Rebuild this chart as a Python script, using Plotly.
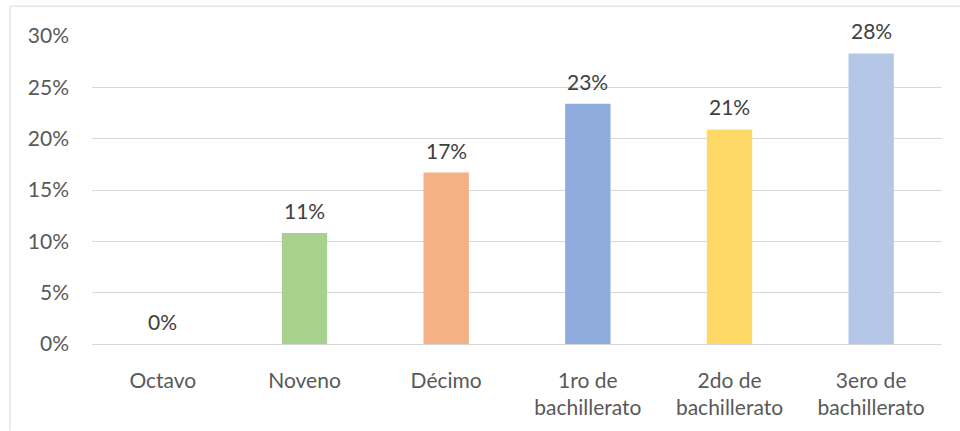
import plotly.graph_objects as go

categories = ["Octavo", "Noveno", "Décimo", "1ro de<br>bachillerato", "2do de<br>bachillerato", "3ero de<br>bachillerato"]
values = [0.0, 10.8, 16.7, 23.4, 20.9, 28.3]
labels = ["0%", "11%", "17%", "23%", "21%", "28%"]
colors = ["#A9D18E", "#A9D18E", "#F4B183", "#8FAADC", "#FFD966", "#B4C7E7"]
tick_vals = [0, 5, 10, 15, 20, 25, 30]
tick_text = ["0%", "5%", "10%", "15%", "20%", "25%", "30%"]

W, H = 960, 431
ml, mr, mt, mb = 92, 18, 36, 85
pw, ph = W - ml - mr, H - mt - mb
FS = 21

fig = go.Figure()
fig.add_trace(go.Bar(x=categories, y=values, marker=dict(color=colors, line=dict(width=0)),
                     width=0.32, hoverinfo="skip"))

for c, v, t in zip(categories, values, labels):
    fig.add_annotation(x=c, y=v, text=t, showarrow=False, yanchor="bottom", yshift=8,
                       font=dict(family="Lato", size=FS, color="#404040"))

def px_x(p):
    return (p - ml) / pw

def px_y(p):
    return (H - mb - p) / ph

frame = "#D9D9D9"
fig.add_shape(type="line", xref="paper", yref="paper", x0=px_x(10), y0=px_y(6), x1=px_x(962), y1=px_y(6),
              line=dict(color=frame, width=1))
fig.add_shape(type="line", xref="paper", yref="paper", x0=px_x(10), y0=px_y(6), x1=px_x(10), y1=px_y(433),
              line=dict(color=frame, width=1))

fig.update_layout(
    width=W, height=H,
    margin=dict(l=ml, r=mr, t=mt, b=mb, pad=0),
    paper_bgcolor="white", plot_bgcolor="white",
    showlegend=False,
    font=dict(family="Lato", size=FS, color="#595959"),
    xaxis=dict(showgrid=False, showline=False, ticks="", tickfont=dict(size=FS, color="#595959"),
               ticklabelstandoff=22, fixedrange=True),
    yaxis=dict(range=[0, 30], tickvals=tick_vals, ticktext=tick_text, showgrid=True,
               gridcolor="#D9D9D9", gridwidth=1, zeroline=True, zerolinecolor="#D9D9D9",
               zerolinewidth=1, showline=False, ticks="", ticklabelstandoff=22,
               tickfont=dict(size=FS, color="#595959"), fixedrange=True),
)

fig.write_html("out.html", config={"displayModeBar": False})
